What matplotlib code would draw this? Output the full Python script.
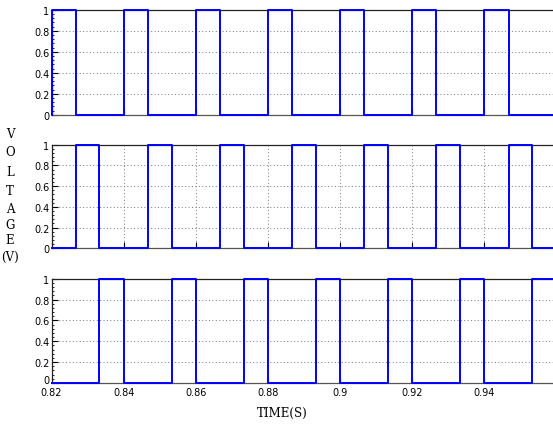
import matplotlib.pyplot as plt
import numpy as np

# switching instants (s) and logic level held from that instant on
time_a = [0.82, 0.82, 0.8267, 0.84, 0.8467, 0.86, 0.8667, 0.88, 0.8867,
          0.90, 0.9067, 0.92, 0.9267, 0.94, 0.9467, 0.96]
level_a = [0, 1, 0, 1, 0, 1, 0, 1, 0, 1, 0, 1, 0, 1, 0, 0]

time_b = [0.82, 0.8267, 0.8333, 0.8467, 0.8533, 0.8667, 0.8733, 0.8867,
          0.8933, 0.9067, 0.9133, 0.9267, 0.9333, 0.9467, 0.9533, 0.96]
level_b = [0, 1, 0, 1, 0, 1, 0, 1, 0, 1, 0, 1, 0, 1, 0, 0]

time_c = [0.82, 0.8333, 0.84, 0.8533, 0.86, 0.8733, 0.88, 0.8933, 0.90,
          0.9133, 0.92, 0.9333, 0.94, 0.9533, 0.96]
level_c = [0, 1, 0, 1, 0, 1, 0, 1, 0, 1, 0, 1, 0, 1, 1]

xticks = [0.82, 0.84, 0.86, 0.88, 0.90, 0.92, 0.94]
xlabels = ["0.82", "0.84", "0.86", "0.88", "0.9", "0.92", "0.94"]
yticks = [0, 0.2, 0.4, 0.6, 0.8, 1]
ylabels = ["0", "0.2", "0.4", "0.6", "0.8", "1"]

tickfont = ["Liberation Sans Narrow", "DejaVu Sans"]

fig = plt.figure(figsize=(5.53, 4.31), dpi=100)
W, H = 553.0, 431.0
left = 51.5 / W
# (top px, bottom px) for the three panels
boxes = [(10.7, 115.7), (145.7, 249.3), (279.7, 384.0)]
series = [(time_a, level_a), (time_b, level_b), (time_c, level_c)]

for k in range(3):
     top, bot = boxes[k]
     ax = fig.add_axes([left, 1 - bot / H, 1 - left + 0.002, (bot - top) / H])
     t, v = series[k]
     ax.step(t, v, where="post", color="#0000ff", lw=1.4, clip_on=False, zorder=5)
     ax.set_xlim(0.82, 0.82 + 501.5 / 3600)
     ax.set_ylim(0, 1)
     ax.set_yticks(yticks)
     ax.set_yticklabels(ylabels, family=tickfont, fontsize=7)
     ax.set_xticks(xticks)
     if k == 2:
          ax.set_xticklabels(xlabels, family=tickfont, fontsize=7)
          ax.get_yticklabels()[0].set_va("baseline")
     else:
          ax.set_xticklabels([])
     ax.set_yticks(np.arange(0, 1.001, 0.04), minor=True)
     ax.tick_params(which="major", direction="in", length=4, width=0.8, pad=1.5)
     ax.tick_params(axis="x", which="major", pad=3)
     ax.tick_params(which="minor", direction="in", length=1.5, width=0.6)
     ax.tick_params(axis="x", which="minor", length=0)
     ax.grid(True, which="major", color="#777777", linestyle=(0, (1, 2.5)), lw=0.7)
     for s in ax.spines.values():
          s.set_linewidth(0.9)
          s.set_color("#222222")
     ax.spines["bottom"].set_color("#555555")
     ax.spines["right"].set_visible(False)

# stacked letters of the voltage label
letters = ["V", "O", "L", "T", "A", "G", "E", "(V)"]
ys = [135, 153, 173, 192, 210, 226, 241, 257]
for i in range(len(letters)):
     fig.text(10 / W, 1 - ys[i] / H, letters[i], family="serif", fontsize=8.5,
              ha="center", va="center")

fig.text(282 / W, 1 - 413 / H, "TIME(S)", family="serif", fontsize=8.5,
         ha="center", va="center")

fig.savefig("out.png", dpi=100)
